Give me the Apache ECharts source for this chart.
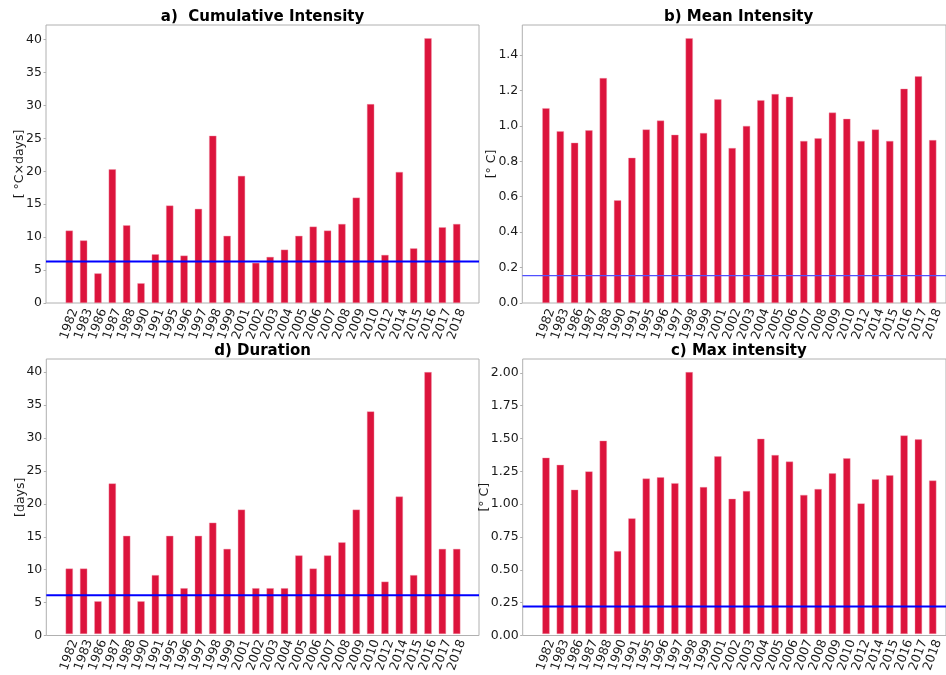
<!DOCTYPE html>
<html>
<head>
<meta charset="utf-8">
<script src="https://cdn.jsdelivr.net/npm/echarts@6/dist/echarts.min.js"></script>
<style>
  html, body { margin: 0; padding: 0; background: #fff; }
  #chart { width: 946px; height: 675px; }
</style>
</head>
<body>
<div id="chart"></div>
<script>
const years = ["1982", "1983", "1986", "1987", "1988", "1990", "1991", "1995", "1996", "1997",
  "1998", "1999", "2001", "2002", "2003", "2004", "2005", "2006", "2007", "2008",
  "2009", "2010", "2012", "2014", "2015", "2016", "2017", "2018"];

const cumIntensity = [11.0, 9.5, 4.5, 20.3, 11.8, 3.0, 7.4, 14.8, 7.2, 14.3,
  25.4, 10.2, 19.3, 6.1, 7.0, 8.1, 10.2, 11.6, 11.0, 12.0,
  16.0, 30.2, 7.3, 19.9, 8.3, 40.2, 11.5, 12.0];
const meanIntensity = [1.10, 0.97, 0.905, 0.975, 1.27, 0.58, 0.82, 0.98, 1.03, 0.95,
  1.495, 0.96, 1.15, 0.875, 1.0, 1.145, 1.18, 1.165, 0.915, 0.93,
  1.075, 1.04, 0.915, 0.98, 0.915, 1.21, 1.28, 0.92];
const duration = [10, 10, 5, 23, 15, 5, 9, 15, 7, 15,
  17, 13, 19, 7, 7, 7, 12, 10, 12, 14,
  19, 34, 8, 21, 9, 40, 13, 13];
const maxIntensity = [1.35, 1.295, 1.105, 1.245, 1.48, 0.635, 0.885, 1.19, 1.2, 1.155,
  2.005, 1.125, 1.36, 1.035, 1.095, 1.495, 1.37, 1.32, 1.065, 1.11,
  1.23, 1.345, 1.0, 1.185, 1.215, 1.52, 1.49, 1.175];

// thresholds (blue lines)
const cumThreshold = 6.3;
const meanThreshold = 0.155;
const durThreshold = 6.1;
const maxThreshold = 0.22;

const cumTicks = [0, 5, 10, 15, 20, 25, 30, 35, 40];
const meanTicks = [0, 0.2, 0.4, 0.6, 0.8, 1.0, 1.2, 1.4];
const durTicks = [0, 5, 10, 15, 20, 25, 30, 35, 40];
const maxTicks = [0, 0.25, 0.5, 0.75, 1.0, 1.25, 1.5, 1.75, 2.0];

const FONT = "DejaVu Sans";
const SPINE = "#b0b0b0";

const panels = [
  { title: "a)  Cumulative Intensity", name: "[ °C×days]", values: cumIntensity, ticks: cumTicks,
    thr: cumThreshold, digits: 0, thin: false, nameGap: 20,
    frame: { left: 46, top: 25, right: 467, bottom: 372 }, inner: { left: 62.1, right: 482.1 } },
  { title: "b) Mean Intensity", name: "[° C]", values: meanIntensity, ticks: meanTicks,
    thr: meanThreshold, digits: 1, thin: true, nameGap: 24,
    frame: { left: 522.3, top: 25, right: -9, bottom: 372 }, inner: { left: 538.8, right: 6.1 } },
  { title: "d) Duration", name: "[days]", values: duration, ticks: durTicks,
    thr: durThreshold, digits: 0, thin: false, nameGap: 19,
    frame: { left: 46.3, top: 359, right: 467, bottom: 39.5 }, inner: { left: 62.1, right: 482.1 } },
  { title: "c) Max intensity", name: "[° C]", values: maxIntensity, ticks: maxTicks,
    thr: maxThreshold, digits: 2, thin: false, nameGap: 31,
    frame: { left: 522.7, top: 359, right: -9, bottom: 39.5 }, inner: { left: 538.8, right: 6.1 } },
];

const grid = [];
const xAxis = [];
const yAxis = [];
const series = [];
const title = [];

panels.forEach((p, i) => {
  const yMax = Math.max(...p.values) * 1.05;
  const fi = i * 2;      // frame grid
  const di = i * 2 + 1;  // bar grid

  grid.push({ ...p.frame, show: true, borderColor: SPINE, borderWidth: 1, backgroundColor: "transparent" });
  grid.push({ left: p.inner.left, right: p.inner.right, top: p.frame.top, bottom: p.frame.bottom });

  const frameCenter = p.frame.left + (946 - p.frame.right - p.frame.left) / 2;
  title.push({
    text: p.title,
    left: frameCenter,
    top: p.frame.top - 15,
    textAlign: "center",
    padding: 0,
    textStyle: { fontFamily: FONT, fontSize: 15, fontWeight: "bold", color: "#000" },
  });

  xAxis.push({ gridIndex: fi, type: "value", min: 0, max: 1, show: false });
  xAxis.push({
    gridIndex: di,
    type: "category",
    data: years,
    axisLine: { show: false },
    axisTick: { show: false },
    axisLabel: {
      interval: 0,
      rotate: 70,
      align: "center",
      verticalAlign: "middle",
      margin: 21,
      fontFamily: FONT,
      fontSize: 12.5,
      color: "#1a1a1a",
    },
  });

  yAxis.push({
    gridIndex: fi,
    type: "value",
    min: 0,
    max: yMax,
    name: p.name,
    nameLocation: "middle",
    nameGap: p.nameGap,
    nameMoveOverlap: false,
    nameTextStyle: { fontFamily: FONT, fontSize: 12.5, color: "#1a1a1a" },
    axisLine: { show: false },
    axisTick: { show: true, length: 2.5, customValues: p.ticks, lineStyle: { color: SPINE } },
    axisLabel: {
      customValues: p.ticks,
      margin: 4,
      fontFamily: FONT,
      fontSize: 12.5,
      color: "#1a1a1a",
      formatter: (v) => v.toFixed(p.digits),
    },
    splitLine: { show: false },
  });
  yAxis.push({ gridIndex: di, type: "value", min: 0, max: yMax, show: false });

  series.push({
    type: "bar",
    xAxisIndex: di,
    yAxisIndex: di,
    data: p.values,
    barWidth: "51%",
    itemStyle: { color: "#dc143c", borderColor: "rgba(240,150,170,0.8)", borderWidth: 0.5 },
    z: 2,
    silent: true,
  });
  series.push({
    type: "line",
    xAxisIndex: fi,
    yAxisIndex: fi,
    data: [[0, p.thr], [1, p.thr]],
    showSymbol: false,
    lineStyle: p.thin ? { color: "#5050ff", width: 1.2 } : { color: "#0000ff", width: 2 },
    z: 3,
    silent: true,
  });
});

const myChart = echarts.init(document.getElementById("chart"), null, { renderer: "canvas" });
myChart.setOption({
  animation: false,
  backgroundColor: "#fff",
  title,
  grid,
  xAxis,
  yAxis,
  series,
});
</script>
</body>
</html>
